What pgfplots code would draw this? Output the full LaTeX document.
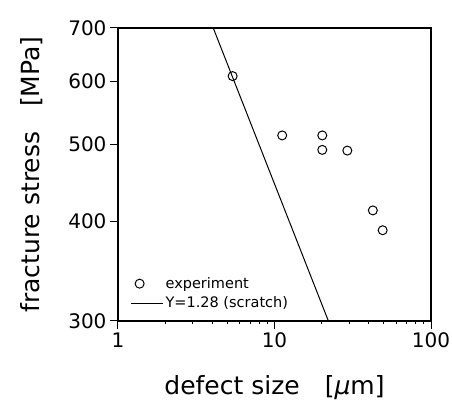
\documentclass[border=0pt]{standalone}
\usepackage{fontspec}
\setmainfont{DejaVu Sans}
\usepackage{pgfplots}
\pgfplotsset{compat=1.18}
\pgfplotsset{longline legend/.style={legend image code/.code={\draw[##1] (0pt,0pt)--(32pt,0pt);}}}
\begin{document}
\begin{tikzpicture}
\begin{loglogaxis}[
  scale only axis, width=313pt, height=293pt,
  xmin=1, xmax=100, ymin=300, ymax=700,
  xtick={1,10,100}, xticklabels={1,10,100},
  ytick={300,400,500,600,700}, yticklabels={300,400,500,600,700},
  minor xtick={}, minor ytick={},
  xtick pos=bottom, ytick pos=left, tick align=outside,
  major tick length=8pt,
  axis line style={line width=1.3pt},
  tick style={line width=1pt, black},
  ticklabel style={font=\fontsize{20}{20}\selectfont},
  /pgf/number format/assume math mode=true,
  xlabel={defect size\quad [{\itshape μ}m]},
  ylabel={fracture stress\quad [MPa]},
  label style={font=\fontsize{25}{25}\selectfont},
  xlabel style={at={(axis description cs:0.5,-0.229)}, anchor=center},
  ylabel style={at={(axis description cs:-0.275,0.5)}, anchor=center},
  legend style={at={(axis description cs:0.03,0.025)}, anchor=south west, draw=none, fill=none,
    font=\fontsize{14.5}{15}\selectfont, row sep=3pt},
  legend cell align=left,
]
\addplot[only marks, mark=o, mark size=4.5pt, black, line width=1pt] coordinates {
  (5.4,609) (11.2,513) (20.2,513) (20.2,492) (29.2,491) (42.5,413) (49.1,390)
};
\addlegendentry{experiment}
\addplot[black, line width=1pt, longline legend] coordinates {
  (4.06,700) (22.1,300)
};
\addlegendentry{Y=1.28 (scratch)}
\end{loglogaxis}
\pgfresetboundingbox
\useasboundingbox (-118pt,-90pt) rectangle (334pt,321pt);
\end{tikzpicture}
\end{document}
